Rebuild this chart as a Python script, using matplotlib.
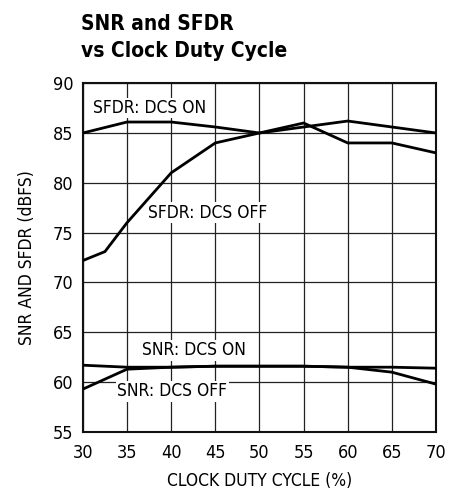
import matplotlib
matplotlib.use("Agg")
import matplotlib.pyplot as plt

plt.rcParams['font.family'] = ['DejaVu Sans']
plt.rcParams['font.stretch'] = 'condensed'

# duty cycle (%)
duty = [30, 35, 40, 45, 50, 55, 60, 65, 70]
duty_off = [30, 32.5, 35, 40, 45, 50, 55, 60, 65, 70]

sfdr_on = [85.0, 86.1, 86.1, 85.6, 85.0, 85.6, 86.2, 85.6, 85.0]
sfdr_off = [72.2, 73.1, 76.0, 81.0, 84.0, 85.0, 86.0, 84.0, 84.0, 83.0]
snr_on = [61.7, 61.5, 61.5, 61.6, 61.6, 61.6, 61.5, 61.5, 61.4]
snr_off = [59.3, 60.3, 61.3, 61.5, 61.6, 61.6, 61.6, 61.5, 61.0, 59.8]

fig = plt.figure(figsize=(4.58, 4.92), dpi=100)
ax = fig.add_axes([0.181, 0.122, 0.771, 0.709])

for xs, ys in [(duty, sfdr_on), (duty_off, sfdr_off), (duty, snr_on), (duty_off, snr_off)]:
    ax.plot(xs, ys, color="black", lw=2.0, solid_joinstyle="miter", zorder=3)

box = dict(facecolor="white", edgecolor="none", pad=1)
ax.text(31.2, 87.5, "SFDR: DCS ON", fontsize=12.5, va="center", ha="left", bbox=box, zorder=4)
ax.text(37.4, 77.0, "SFDR: DCS OFF", fontsize=12.5, va="center", ha="left", bbox=box, zorder=4)
ax.text(36.7, 63.2, "SNR: DCS ON", fontsize=12.5, va="center", ha="left", bbox=box, zorder=4)
ax.text(33.9, 59.1, "SNR: DCS OFF", fontsize=12.5, va="center", ha="left", bbox=box, zorder=4)

ax.set_xlim(30, 70)
ax.set_ylim(55, 90)
ax.set_xticks(range(30, 71, 5))
ax.set_yticks(range(55, 91, 5))
ax.grid(True, color="#222222", lw=0.9)
ax.tick_params(length=0, labelsize=13)
ax.tick_params(axis="x", pad=9)
ax.tick_params(axis="y", pad=7)
for s in ax.spines.values():
    s.set_linewidth(1.5)
    s.set_color("#111111")

ax.set_xlabel("CLOCK DUTY CYCLE (%)", fontsize=12.5, labelpad=7)
ax.set_ylabel("SNR AND SFDR (dBFS)", fontsize=12.5, labelpad=12)

fig.text(0.176, 0.940, "SNR and SFDR", fontsize=15, fontweight="bold", ha="left", va="baseline")
fig.text(0.176, 0.884, "vs Clock Duty Cycle", fontsize=15, fontweight="bold", ha="left", va="baseline")

fig.savefig("out.png", dpi=100)
